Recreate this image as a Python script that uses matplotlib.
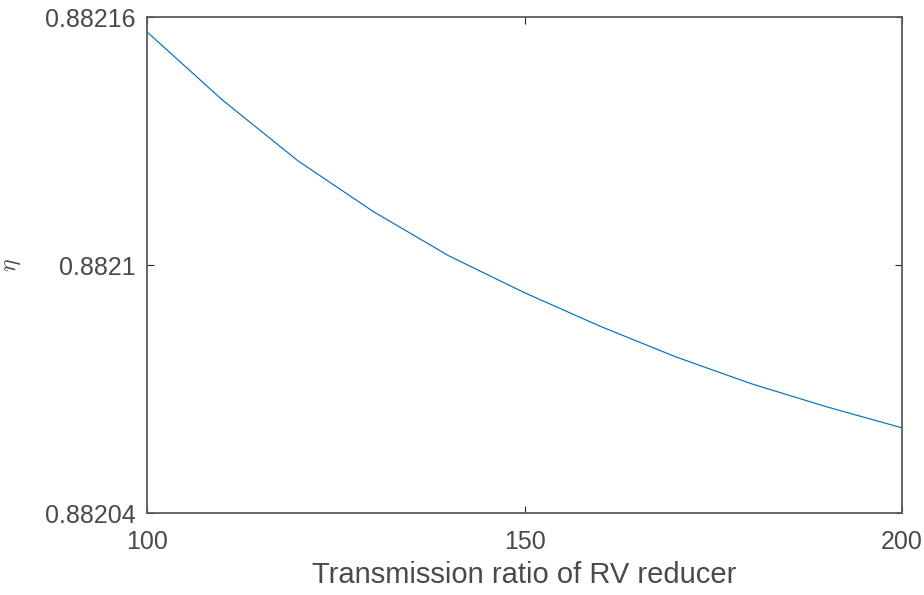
import matplotlib
matplotlib.use('Agg')
import matplotlib.pyplot as plt
import numpy as np

# values
ratio = [100, 110, 120, 130, 140, 150, 160, 170, 180, 190, 200]
eta = [0.8821564, 0.8821399, 0.8821252, 0.8821129, 0.8821022, 0.8820933,
       0.8820852, 0.8820778, 0.8820713, 0.8820657, 0.8820606]

xticks = [100, 150, 200]
yticks = [0.88204, 0.8821, 0.88216]
ytick_labels = ['0.88204', '0.8821', '0.88216']

plt.rcParams['font.family'] = ['Liberation Sans', 'DejaVu Sans']
plt.rcParams['mathtext.fontset'] = 'cm'

txt = '#4a4a4a'
fig = plt.figure(figsize=(9.24, 5.95), dpi=100)
ax = fig.add_axes([0.1591, 0.1378, 0.8171, 0.8336])

ax.plot(ratio, eta, color='#0072BD', lw=0.85)

ax.set_xlim(100, 200)
ax.set_ylim(0.88204, 0.88216)
ax.set_xticks(xticks)
ax.set_xticklabels([str(t) for t in xticks])
ax.set_yticks(yticks)
ax.set_yticklabels(ytick_labels)

ax.tick_params(direction='in', length=5, width=0.8, color='#262626',
               labelsize=18, labelcolor=txt, top=True, right=True)
ax.tick_params(axis='y', pad=8)
ax.tick_params(axis='x', pad=12)
for s in ax.spines.values():
    s.set_color('#5a5a5a')
    s.set_linewidth(1.3)

ax.set_xlabel('Transmission ratio of RV reducer', fontsize=21, color=txt, labelpad=5)
ax.set_ylabel(r'$\eta$', fontsize=17, color=txt, labelpad=16)

fig.savefig('out.png', dpi=100, facecolor='white')
